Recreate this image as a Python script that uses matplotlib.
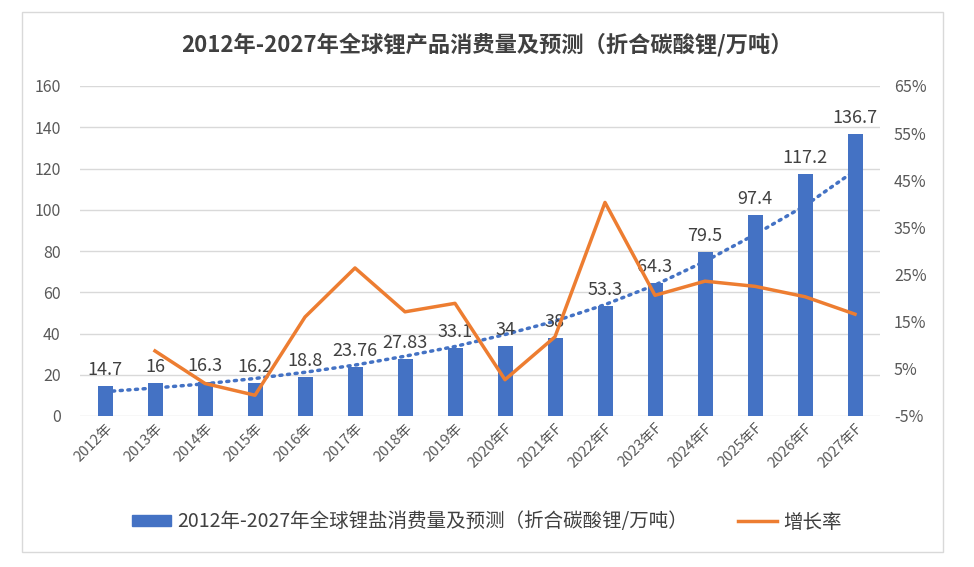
import matplotlib
matplotlib.use("Agg")
import matplotlib.pyplot as plt
from matplotlib.patches import Rectangle
from matplotlib.lines import Line2D
from matplotlib.ticker import FuncFormatter

plt.rcParams["font.family"] = ["Noto Sans CJK SC", "DejaVu Sans"]

years = ["2012年", "2013年", "2014年", "2015年", "2016年", "2017年", "2018年", "2019年",
         "2020年F", "2021年F", "2022年F", "2023年F", "2024年F", "2025年F", "2026年F", "2027年F"]
consumption = [14.7, 16, 16.3, 16.2, 18.8, 23.76, 27.83, 33.1,
               34, 38, 53.3, 64.3, 79.5, 97.4, 117.2, 136.7]
labels = ["14.7", "16", "16.3", "16.2", "18.8", "23.76", "27.83", "33.1",
          "34", "38", "53.3", "64.3", "79.5", "97.4", "117.2", "136.7"]
# growth rate (%), starts from 2013
growth = [8.8, 1.9, -0.6, 16.0, 26.4, 17.1, 18.9, 2.7,
          11.8, 40.3, 20.6, 23.6, 22.5, 20.3, 16.6]
# dotted trend line
trend = [11.8, 13.6, 15.6, 18.2, 21.2, 24.7, 29.0, 33.7,
         39.5, 46.0, 54.0, 63.5, 75.0, 88.0, 102.0, 119.0]

blue = "#4472C4"
orange = "#ED7D31"
grey = "#595959"

fig = plt.figure(figsize=(9.74, 5.67), dpi=100)
fig.patches.append(Rectangle((22 / 974, 1 - 552 / 567), (943 - 22) / 974, (552 - 12) / 567,
                             transform=fig.transFigure, fill=False, edgecolor="#D9D9D9", lw=1))

ax = fig.add_axes([80 / 974, 1 - 416 / 567, 800 / 974, 330 / 567])
x = list(range(len(years)))

ax.bar(x, consumption, width=0.3, color=blue, zorder=2)
ax.plot(x, trend, color=blue, lw=2.5, linestyle=(0, (0.6, 1.6)), dash_capstyle="round", zorder=3)
for xi, v, t in zip(x, consumption, labels):
    ax.annotate(t, (xi, v), xytext=(0, 5), textcoords="offset points",
                ha="center", va="bottom", fontsize=13, color="#404040", zorder=5)

ax.set_xlim(-0.5, len(years) - 0.5)
ax.set_ylim(0, 160)
ax.set_yticks(range(0, 161, 20))
ax.grid(axis="y", color="#D9D9D9", lw=1, zorder=0)
ax.set_axisbelow(True)
for s in ax.spines.values():
    s.set_visible(False)
ax.tick_params(length=0, colors=grey, labelsize=11.5)
ax.tick_params(axis="y", pad=14)
ax.set_xticks(x)
ax.set_xticklabels(years, rotation=45, ha="right", rotation_mode="anchor", fontsize=10.5)

ax2 = ax.twinx()
ax2.plot(x[1:], growth, color=orange, lw=2.5, zorder=4)
ax2.set_ylim(-5, 65)
ax2.set_yticks(range(-5, 66, 10))
ax2.yaxis.set_major_formatter(FuncFormatter(lambda v, p: f"{v:.0f}%"))
for s in ax2.spines.values():
    s.set_visible(False)
ax2.tick_params(length=0, colors=grey, labelsize=11.5, pad=10)

fig.text(0.5, 1 - 45 / 567, "2012年-2027年全球锂产品消费量及预测（折合碳酸锂/万吨）",
         ha="center", va="center", fontsize=16, fontweight="bold", color="#404040")

handles = [Rectangle((0, 0), 1, 1, color=blue),
           Line2D([0], [0], color=orange, lw=2.5)]
fig.legend(handles, ["2012年-2027年全球锂盐消费量及预测（折合碳酸锂/万吨）", "增长率"],
           loc="center", bbox_to_anchor=(0.5, 1 - 522 / 567), ncol=2, frameon=False,
           fontsize=14, labelcolor="#404040", handlelength=2.0, handleheight=0.5,
           handletextpad=0.3, columnspacing=2.6)

fig.savefig("out.png", dpi=100)
